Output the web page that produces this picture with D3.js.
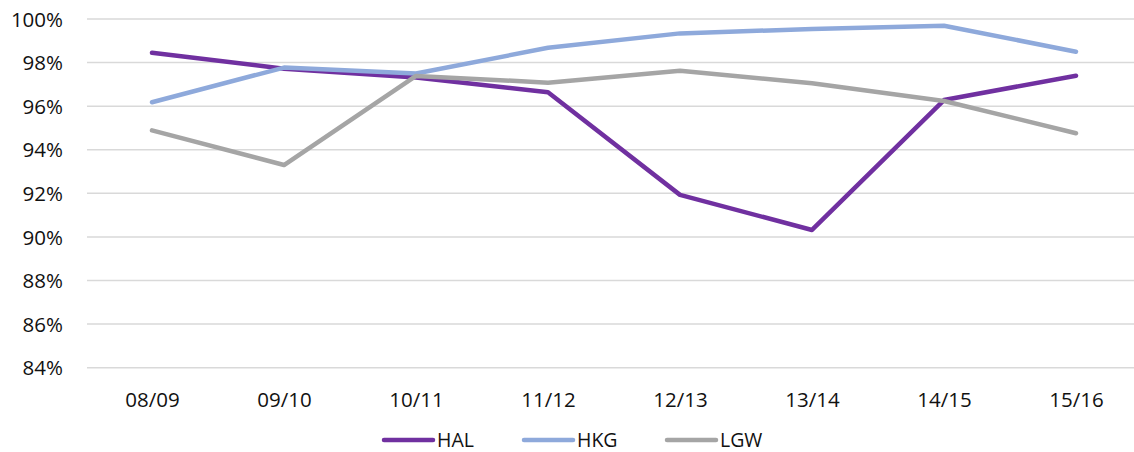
<!DOCTYPE html>
<html><head><meta charset="utf-8">
<script src="https://cdn.jsdelivr.net/npm/d3@7"></script>
<style>
html,body{margin:0;padding:0;background:#fff;}
svg{display:block;}
text{font-family:"Open Sans",sans-serif;fill:#111;}
</style></head>
<body>
<svg id="chart" width="1134" height="452"></svg>
<script>
const categories = ["08/09","09/10","10/11","11/12","12/13","13/14","14/15","15/16"];
const seriesNames = ["HAL","HKG","LGW"];
const seriesColors = ["#7030A0","#8EA9DB","#A5A5A5"];
const halValues = [98.45, 97.72, 97.32, 96.64, 91.93, 90.32, 96.28, 97.40];
const hkgValues = [96.18, 97.77, 97.50, 98.68, 99.34, 99.54, 99.69, 98.50];
const lgwValues = [94.89, 93.30, 97.39, 97.08, 97.63, 97.05, 96.24, 94.76];
const yTicks = [84, 86, 88, 90, 92, 94, 96, 98, 100];

const svg = d3.select("#chart");
const plotLeft = 86, plotRight = 1142, plotTop = 19, plotBottom = 367.7;

const x = d3.scalePoint().domain(categories).range([plotLeft, plotRight]).padding(0.5);
const y = d3.scaleLinear().domain([84, 100]).range([plotBottom, plotTop]);

// gridlines
svg.append("g").selectAll("line").data(yTicks).join("line")
  .attr("x1", 87).attr("x2", 1134)
  .attr("y1", d => y(d)).attr("y2", d => y(d))
  .attr("stroke", "#D9D9D9").attr("stroke-width", 1.5);

// y axis labels
const yAxis = d3.axisLeft(y).tickValues(yTicks).tickSize(0).tickPadding(0)
  .tickFormat(d => d + "%");
const gy = svg.append("g").attr("transform", "translate(63,0)").call(yAxis);
gy.select(".domain").remove();
gy.selectAll("text").attr("font-size", 20.5).attr("font-family", "Open Sans").attr("fill", "#111").attr("dy", "0.35em");

// x axis labels
const xAxis = d3.axisBottom(x).tickSize(0).tickPadding(0);
const gx = svg.append("g").attr("transform", "translate(0,400)").call(xAxis);
gx.select(".domain").remove();
gx.selectAll("text").attr("font-size", 20.5).attr("font-family", "Open Sans").attr("fill", "#111").attr("dy", "0.35em");

const allValues = [halValues, hkgValues, lgwValues];
const line = d3.line().x((d, i) => x(categories[i])).y(d => y(d));
allValues.forEach((vals, k) => {
  svg.append("path").datum(vals)
    .attr("fill", "none").attr("stroke", seriesColors[k])
    .attr("stroke-width", 4.5).attr("stroke-linejoin", "round").attr("stroke-linecap", "round")
    .attr("d", line);
});

// legend
const legendX = [384, 524, 667];
const lg = svg.append("g");
seriesNames.forEach((name, k) => {
  lg.append("line").attr("x1", legendX[k]).attr("x2", legendX[k] + 49)
    .attr("y1", 440).attr("y2", 440)
    .attr("stroke", seriesColors[k]).attr("stroke-width", 4.5).attr("stroke-linecap", "round");
  lg.append("text").attr("x", legendX[k] + 53).attr("y", 440).attr("dy", "0.35em")
    .attr("font-size", 19.5).text(name);
});
</script>
</body></html>
